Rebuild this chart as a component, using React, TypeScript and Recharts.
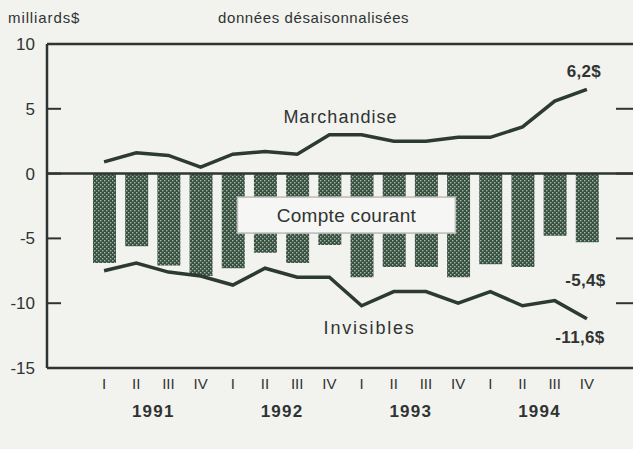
import React from 'react';
import { ComposedChart, Bar, Line, XAxis, YAxis, ReferenceLine, ReferenceDot, LabelList } from 'recharts';

const years = ['1991', '1992', '1993', '1994'];
const quarters = ['I', 'II', 'III', 'IV'];
const compteCourant = [-6.9, -5.6, -7.1, -7.9, -7.3, -6.1, -6.9, -5.5, -8.0, -7.2, -7.2, -8.0, -7.0, -7.2, -4.8, -5.3];
const marchandise = [0.9, 1.6, 1.4, 0.5, 1.5, 1.7, 1.5, 3.0, 3.0, 2.5, 2.5, 2.8, 2.8, 3.6, 5.6, 6.5];
const invisibles = [-7.5, -6.9, -7.6, -7.9, -8.6, -7.3, -8.0, -8.0, -10.2, -9.1, -9.1, -10.0, -9.1, -10.2, -9.8, -11.2];
const yTicks = [-15, -10, -5, 0, 5, 10];
const labelMarchandiseEnd = '6,2$';
const labelCompteEnd = '-5,4$';
const labelInvisiblesEnd = '-11,6$';

const data = years.flatMap((yr, yi) =>
  quarters.map((q, qi) => {
    const i = yi * 4 + qi;
    return {
      key: `${yr}-${q}`,
      year: yr,
      quarter: q,
      compte: compteCourant[i],
      marchandise: marchandise[i],
      invisibles: invisibles[i],
    };
  })
);

const FONT = '"Liberation Sans", Arial, Helvetica, sans-serif';
const INK = '#2f3432';
const LINE = '#2c3a31';

const LeftTick = (props: any) => {
  const { x, y, payload } = props;
  return (
    <g>
      <text x={x - 12} y={y} dy={6} textAnchor="end" fontFamily={FONT} fontSize={17} fill={INK}>
        {payload.value}
      </text>
      <line x1={x} x2={x + 14} y1={y} y2={y} stroke={INK} strokeWidth={2} />
    </g>
  );
};

const RightTick = (props: any) => {
  const { x, y } = props;
  return (
    <g>
      <line x1={x - 17} x2={x + 2} y1={y} y2={y} stroke={INK} strokeWidth={2} />
    </g>
  );
};

const XTick = (props: any) => {
  const { x, y, index } = props;
  const d = data[index];
  const q = d ? d.quarter : '';
  return (
    <g>
      <text x={x} y={y + 21} textAnchor="middle" fontFamily={FONT} fontSize={15} fill={INK}>
        {q}
      </text>
      {q === 'II' && (
        <text x={x + 17} y={y + 49} textAnchor="middle" fontFamily={FONT} fontSize={17} fontWeight="bold" fill={INK} letterSpacing={1.2}>
          {d.year}
        </text>
      )}
    </g>
  );
};

const lastIdx = data.length - 1;

const MarchEndLabel = (props: any) => {
  const { x, y, index } = props;
  if (index !== lastIdx) return null;
  return (
    <text x={x - 3} y={y - 12} textAnchor="middle" fontFamily={FONT} fontSize={17} fontWeight="bold" fill={INK} letterSpacing={0.3}>
      {labelMarchandiseEnd}
    </text>
  );
};

const InvisEndLabel = (props: any) => {
  const { x, y, index } = props;
  if (index !== lastIdx) return null;
  return (
    <text x={x - 7} y={y + 24} textAnchor="middle" fontFamily={FONT} fontSize={17} fontWeight="bold" fill={INK} letterSpacing={0.3}>
      {labelInvisiblesEnd}
    </text>
  );
};

const CompteEndLabel = (props: any) => {
  const { x, y, width, height, index } = props;
  if (index !== lastIdx) return null;
  const bottom = Math.max(y, y + height);
  return (
    <text x={x + width / 2 - 2} y={bottom + 44} textAnchor="middle" fontFamily={FONT} fontSize={17} fontWeight="bold" fill={INK} letterSpacing={0.3}>
      {labelCompteEnd}
    </text>
  );
};

const CompteBox = (props: any) => {
  const { cx, cy } = props;
  return (
    <g>
      <rect x={cx - 92} y={cy - 18} width={218} height={36} fill="#f6f6f4" stroke="#b9bcb9" strokeWidth={1.5} />
      <text x={cx + 17} y={cy + 7} textAnchor="middle" fontFamily={FONT} fontSize={19} fill={INK} letterSpacing={0.3}>
        Compte courant
      </text>
    </g>
  );
};

const TextMark = (label: string, dx: number, spacing: number) => (props: any) => {
  const { cx, cy } = props;
  return (
    <text x={cx + dx} y={cy} dy={6} textAnchor="middle" fontFamily={FONT} fontSize={18} fill={INK} letterSpacing={spacing}>
      {label}
    </text>
  );
};

export default function App() {
  return (
    <div style={{ position: 'absolute', left: 0, top: 0, width: 633, height: 449, overflow: 'hidden', background: '#f2f2ef', fontFamily: FONT }}>
      <svg width={633} height={40} style={{ position: 'absolute', left: 0, top: 0 }}>
        <text x={8} y={23} fontFamily={FONT} fontSize={15} fill={INK} letterSpacing={0.9}>milliards$</text>
        <text x={218} y={23} fontFamily={FONT} fontSize={15} fill={INK} letterSpacing={0.6}>données  désaisonnalisées</text>
      </svg>
      <div style={{ position: 'absolute', left: 0, top: 0 }}>
        <ComposedChart width={653} height={449} data={data} margin={{ top: 44, right: 0, bottom: 0, left: 0 }} barSize={23}>
          <defs>
            <pattern id="stipple" width="4" height="4" patternUnits="userSpaceOnUse">
              <rect width="4" height="4" fill="#38503f" />
              <rect x="0" y="0" width="1.4" height="1.4" fill="#a6b7a8" />
              <rect x="2" y="2" width="1.4" height="1.4" fill="#a6b7a8" />
            </pattern>
          </defs>
          <XAxis
            dataKey="key"
            interval={0}
            padding={{ left: 41, right: 30 }}
            height={81}
            tickSize={0}
            tickMargin={0}
            tickLine={false}
            axisLine={{ stroke: INK, strokeWidth: 2.5 }}
            tick={<XTick />}
          />
          <YAxis
            yAxisId="left"
            domain={[-15, 10]}
            ticks={yTicks}
            width={47}
            tickSize={0}
            tickMargin={0}
            tickLine={false}
            axisLine={{ stroke: INK, strokeWidth: 2.5 }}
            tick={<LeftTick />}
            interval={0}
          />
          <YAxis
            yAxisId="right"
            orientation="right"
            domain={[-15, 10]}
            ticks={yTicks}
            width={20}
            tickSize={0}
            tickMargin={0}
            tickLine={false}
            axisLine={false}
            tick={<RightTick />}
            interval={0}
          />
          <ReferenceLine yAxisId="left" y={10} stroke={INK} strokeWidth={2.5} />
          <Bar yAxisId="left" dataKey="compte" fill="url(#stipple)" isAnimationActive={false}>
            <LabelList dataKey="compte" content={<CompteEndLabel />} />
          </Bar>
          <ReferenceLine yAxisId="left" y={0} stroke={INK} strokeWidth={2.5} />
          <Line yAxisId="right" type="linear" dataKey="marchandise" stroke={LINE} strokeWidth={3.5} dot={false} isAnimationActive={false}>
            <LabelList dataKey="marchandise" content={<MarchEndLabel />} />
          </Line>
          <Line yAxisId="left" type="linear" dataKey="invisibles" stroke={LINE} strokeWidth={3.5} dot={false} isAnimationActive={false}>
            <LabelList dataKey="invisibles" content={<InvisEndLabel />} />
          </Line>
          <ReferenceDot yAxisId="left" x="1992-IV" y={-3.2} r={0} shape={<CompteBox />} />
          <ReferenceDot yAxisId="left" x="1992-IV" y={4.4} r={0} shape={TextMark('Marchandise', 11, 1)} />
          <ReferenceDot yAxisId="left" x="1993-I" y={-11.9} r={0} shape={TextMark('Invisibles', 8, 1.8)} />
        </ComposedChart>
      </div>
    </div>
  );
}
